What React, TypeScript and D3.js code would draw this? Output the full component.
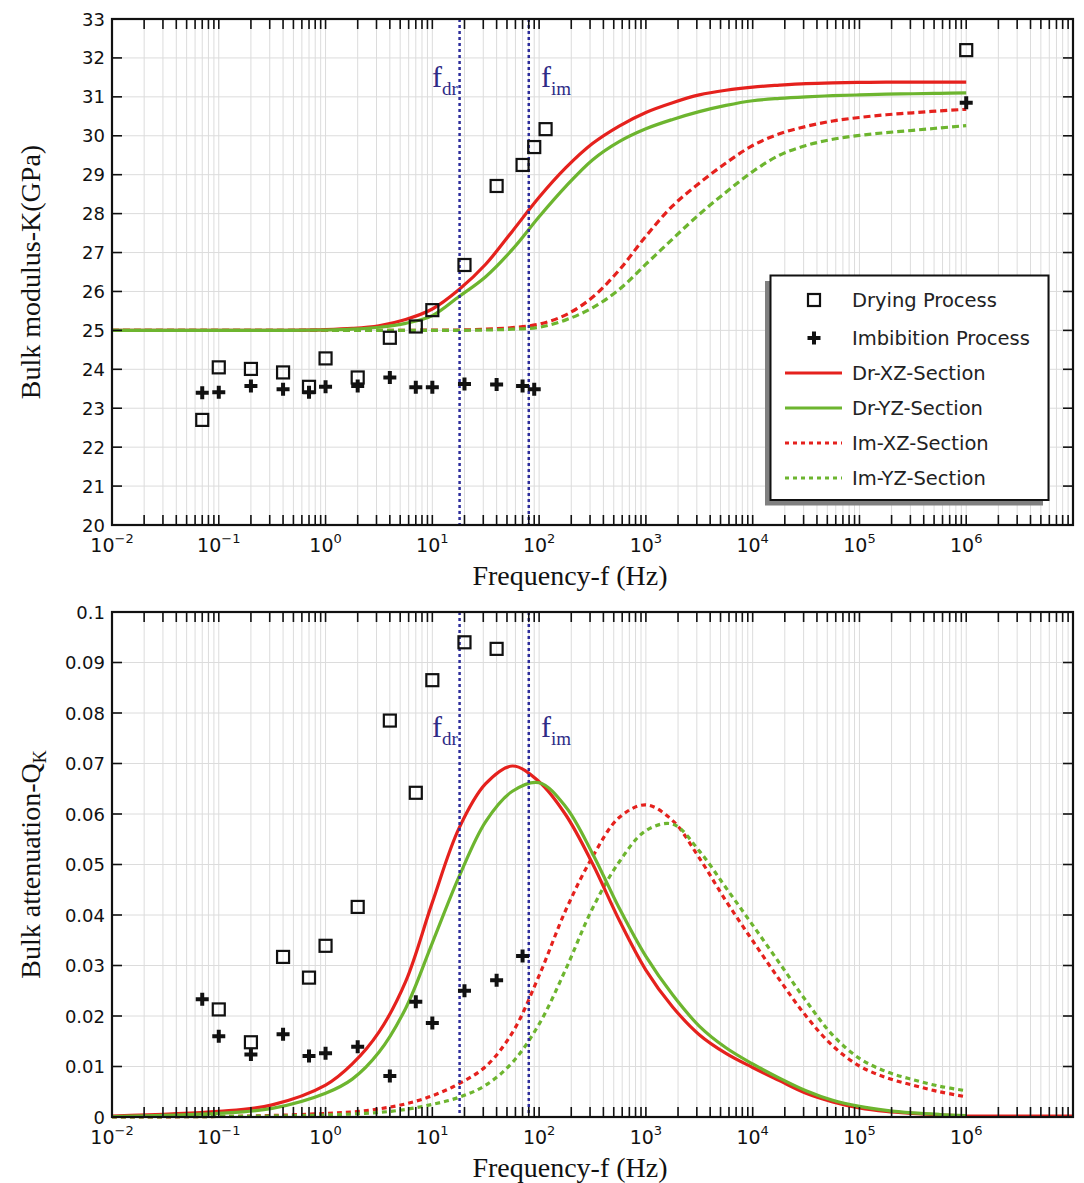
import * as d3 from 'd3';
import React, {useEffect} from 'react';

// frequency grid (Hz) on which the model curves were read
const curveFreq = [0.01, 0.1, 0.316, 1, 1.78, 3.16, 5.62, 10, 17.8, 31.6, 56.2, 100, 178, 316, 562, 1000,
  1780, 3160, 5620, 1e4, 1.78e4, 3.16e4, 5.62e4, 1e5, 1.78e5, 3.16e5, 5.62e5, 1e6];

// bulk modulus K (GPa)
const drXZ_K = [25.00, 25.00, 25.00, 25.02, 25.05, 25.12, 25.28, 25.55, 26.05, 26.70, 27.55, 28.42, 29.18, 29.80,
  30.25, 30.60, 30.85, 31.05, 31.17, 31.25, 31.30, 31.34, 31.36, 31.37, 31.38, 31.38, 31.38, 31.38];
const drYZ_K = [25.00, 25.00, 25.00, 25.01, 25.03, 25.08, 25.18, 25.38, 25.87, 26.38, 27.08, 27.92, 28.70, 29.38,
  29.85, 30.18, 30.42, 30.62, 30.78, 30.90, 30.96, 31.00, 31.03, 31.05, 31.07, 31.08, 31.09, 31.10];
const imXZ_K = [25.00, 25.00, 25.00, 25.00, 25.00, 25.00, 25.00, 25.01, 25.01, 25.03, 25.07, 25.16, 25.40, 25.85,
  26.55, 27.42, 28.20, 28.78, 29.30, 29.75, 30.05, 30.24, 30.38, 30.47, 30.54, 30.59, 30.64, 30.68];
const imYZ_K = [25.00, 25.00, 25.00, 25.00, 25.00, 25.00, 25.00, 25.00, 25.00, 25.01, 25.03, 25.08, 25.27, 25.58,
  26.05, 26.70, 27.35, 27.98, 28.55, 29.08, 29.50, 29.75, 29.91, 30.01, 30.08, 30.14, 30.20, 30.26];

// bulk attenuation Q_K
const drXZ_Q = [0.0002, 0.0011, 0.0024, 0.0063, 0.0105, 0.0168, 0.0268, 0.0425, 0.0572, 0.0660, 0.0695, 0.0664,
  0.0598, 0.0502, 0.0390, 0.0291, 0.0218, 0.0163, 0.0126, 0.0098, 0.0072, 0.0047, 0.0030, 0.0018, 0.0011, 0.0007,
  0.0004, 0.0002];
const drYZ_Q = [0.0001, 0.0007, 0.0017, 0.0047, 0.0075, 0.0128, 0.0215, 0.0345, 0.0476, 0.0585, 0.0645, 0.0662,
  0.0614, 0.0522, 0.0414, 0.0318, 0.0242, 0.0180, 0.0137, 0.0105, 0.0077, 0.0052, 0.0033, 0.0021, 0.0013, 0.0008,
  0.0005, 0.0003];
const imXZ_Q = [0.0000, 0.0001, 0.0003, 0.0007, 0.0010, 0.0016, 0.0026, 0.0042, 0.0066, 0.0100, 0.0167, 0.0280,
  0.0410, 0.0515, 0.0593, 0.0618, 0.0587, 0.0513, 0.0428, 0.0349, 0.0272, 0.0200, 0.0141, 0.0101, 0.0078, 0.0063,
  0.0050, 0.0040];
const imYZ_Q = [0.0000, 0.0001, 0.0002, 0.0004, 0.0006, 0.0009, 0.0015, 0.0025, 0.0039, 0.0063, 0.0108, 0.0184,
  0.0293, 0.0413, 0.0505, 0.0567, 0.0580, 0.0527, 0.0454, 0.0380, 0.0305, 0.0230, 0.0162, 0.0116, 0.0090, 0.0074,
  0.0061, 0.0052];
// red solid attenuation keeps running at zero to the right edge
const tailFreq = [1e6, 1e7];
const tailQ = [0.0002, 0.0002];

// measured points
const dryFreqK = [0.07, 0.1, 0.2, 0.4, 0.7, 1, 2, 4, 7, 10, 20, 40, 70, 90, 115, 1e6];
const dryK = [22.70, 24.05, 24.01, 23.92, 23.55, 24.28, 23.79, 24.81, 25.10, 25.52, 26.68, 28.71, 29.25, 29.71, 30.17, 32.20];
const imbFreqK = [0.07, 0.1, 0.2, 0.4, 0.7, 1, 2, 4, 7, 10, 20, 40, 70, 90, 1e6];
const imbK = [23.40, 23.41, 23.57, 23.49, 23.41, 23.55, 23.57, 23.79, 23.54, 23.54, 23.62, 23.61, 23.57, 23.49, 30.85];

const dryFreqQ = [0.1, 0.2, 0.4, 0.7, 1, 2, 4, 7, 10, 20, 40];
const dryQ = [0.0213, 0.0148, 0.0317, 0.0276, 0.0339, 0.0416, 0.0785, 0.0642, 0.0865, 0.0940, 0.0927];
const imbFreqQ = [0.07, 0.1, 0.2, 0.4, 0.7, 1, 2, 4, 7, 10, 20, 40, 70];
const imbQ = [0.0233, 0.0160, 0.0124, 0.0164, 0.0121, 0.0126, 0.0139, 0.0081, 0.0228, 0.0186, 0.0250, 0.0271, 0.0319];

const fDr = 18;
const fIm = 80;

const kTicks = d3.range(20, 34, 1);
const qTicks = [0, 0.01, 0.02, 0.03, 0.04, 0.05, 0.06, 0.07, 0.08, 0.09, 0.1];
const decadeExps = [-2, -1, 0, 1, 2, 3, 4, 5, 6];
const legendLabels = ['Drying Process', 'Imbibition Process', 'Dr-XZ-Section', 'Dr-YZ-Section', 'Im-XZ-Section', 'Im-YZ-Section'];
const legendRows = [300, 338, 373, 408, 443, 478];

const RED = '#e5211d';
const GREEN = '#6db52f';
const NAVY = '#2c2c9a';
const SANS = '"DejaVu Sans", sans-serif';
const SERIF = '"Liberation Serif", "Times New Roman", serif';

const xScale = d3.scaleLog().domain([1e-2, 1e7]).range([112, 1073]);

const minorVals: number[] = [];
for (let e = -2; e < 7; e++) for (let m = 1; m < 10; m++) minorVals.push(m * Math.pow(10, e));

const pairs = (xs: number[], ys: number[]) => xs.map((x, i) => [x, ys[i]] as [number, number]);

interface LineDef { data: [number, number][], color: string, dashed: boolean }

interface PanelProps {
  y0: number, y1: number,
  domain: [number, number],
  ticks: number[],
  fmt: (v: number) => string,
  lines: LineDef[],
  squares: [number, number][],
  pluses: [number, number][],
  labelY: number,
  dash: string,
  title: React.ReactNode,
  showLegend: boolean
}

const Panel: React.FC<PanelProps> = p => {
  const y = d3.scaleLinear().domain(p.domain).range([p.y1, p.y0]);
  const line = d3.line<[number, number]>()
    .x(d => xScale(d[0]))
    .y(d => y(d[1]))
    .curve(d3.curveCatmullRom.alpha(0.5));
  const x0 = xScale.range()[0], x1 = xScale.range()[1];
  const tl = 10;
  const cy = (p.y0 + p.y1) / 2;

  return (
    <g>
      <g stroke='#dcdcdc' strokeWidth={1}>
        {minorVals.map((v, i) => <line key={'gx' + i} x1={xScale(v)} x2={xScale(v)} y1={p.y0} y2={p.y1}/>)}
        {p.ticks.map((v, i) => <line key={'gy' + i} x1={x0} x2={x1} y1={y(v)} y2={y(v)}/>)}
      </g>

      {p.lines.map((l, i) => (
        <path key={'l' + i} d={line(l.data) || ''} fill='none' stroke={l.color} strokeWidth={3.2}
          strokeDasharray={l.dashed ? p.dash : undefined}/>
      ))}

      {[fDr, fIm].map((f, i) => (
        <line key={'v' + i} x1={xScale(f)} x2={xScale(f)} y1={p.y0} y2={p.y1} stroke={NAVY}
          strokeWidth={2.5} strokeDasharray='3,3'/>
      ))}

      {p.squares.map((d, i) => (
        <rect key={'s' + i} x={xScale(d[0]) - 6} y={y(d[1]) - 6} width={12} height={12}
          fill='none' stroke='#111' strokeWidth={2.2}/>
      ))}
      {p.pluses.map((d, i) => (
        <path key={'p' + i} transform={`translate(${xScale(d[0])},${y(d[1])})`}
          d='M-6.5,0H6.5M0,-6.5V6.5' stroke='#111' strokeWidth={4}/>
      ))}

      <g fill={'#2e2b86'} fontFamily={SERIF}>
        <text x={432} y={p.labelY} fontSize={30}>f<tspan fontSize={19} dy={8}>dr</tspan></text>
        <text x={541} y={p.labelY} fontSize={30}>f<tspan fontSize={19} dy={8}>im</tspan></text>
      </g>

      <g stroke='#111' strokeWidth={1.6}>
        {minorVals.concat([1e7]).map((v, i) => (
          <g key={'tx' + i}>
            <line x1={xScale(v)} x2={xScale(v)} y1={p.y1} y2={p.y1 - tl}/>
            <line x1={xScale(v)} x2={xScale(v)} y1={p.y0} y2={p.y0 + tl}/>
          </g>
        ))}
        {p.ticks.map((v, i) => (
          <g key={'ty' + i}>
            <line x1={x0} x2={x0 + tl} y1={y(v)} y2={y(v)}/>
            <line x1={x1} x2={x1 - tl} y1={y(v)} y2={y(v)}/>
          </g>
        ))}
      </g>
      <rect x={x0} y={p.y0} width={x1 - x0} height={p.y1 - p.y0} fill='none' stroke='#111' strokeWidth={2.2}/>

      <g fontFamily={SANS} fontSize={18} fill='#111'>
        {p.ticks.map((v, i) => (
          <text key={'yl' + i} x={105} y={y(v)} textAnchor='end' dominantBaseline='central'>{p.fmt(v)}</text>
        ))}
        {decadeExps.map(e => (
          <text key={'xl' + e} x={xScale(Math.pow(10, e))} y={p.y1 + 27} textAnchor='middle' fontSize={19}>
            10<tspan fontSize={13} dy={-9}>{e < 0 ? '\u2212' + Math.abs(e) : String(e)}</tspan>
          </text>
        ))}
      </g>

      <text x={570} y={p.y1 + 60} textAnchor='middle' fontFamily={SERIF} fontSize={28} fill='#111'>
        Frequency-f (Hz)
      </text>
      <text transform={`translate(40,${cy}) rotate(-90)`} textAnchor='middle' fontFamily={SERIF} fontSize={28}
        fill='#111'>
        {p.title}
      </text>

      {p.showLegend && <Legend/>}
    </g>
  );
};

const Legend: React.FC = () => {
  const bx = 770.5, by = 275.5, bw = 278, bh = 224.5;
  const styles = [
    {kind: 'square'}, {kind: 'plus'},
    {kind: 'line', color: RED, dash: undefined}, {kind: 'line', color: GREEN, dash: undefined},
    {kind: 'line', color: RED, dash: '4,4'}, {kind: 'line', color: GREEN, dash: '4,4'}
  ];
  return (
    <g>
      <rect x={bx - 5.5} y={by + 5.5} width={bw} height={bh} fill='#808080'/>
      <rect x={bx} y={by} width={bw} height={bh} fill='#fff' stroke='#111' strokeWidth={2}/>
      {legendLabels.map((lab, i) => {
        const yy = legendRows[i];
        const s: any = styles[i];
        return (
          <g key={lab}>
            {s.kind === 'square' && <rect x={808} y={yy - 6} width={12} height={12} fill='none' stroke='#111' strokeWidth={2.2}/>}
            {s.kind === 'plus' && <path transform={`translate(814,${yy})`} d='M-6.5,0H6.5M0,-6.5V6.5' stroke='#111' strokeWidth={4}/>}
            {s.kind === 'line' && <line x1={785} x2={842} y1={yy} y2={yy} stroke={s.color} strokeWidth={3.2}
              strokeDasharray={s.dash}/>}
            <text x={852} y={yy} dominantBaseline='central' fontFamily={SANS} fontSize={19.5} fill='#222'>{lab}</text>
          </g>
        );
      })}
    </g>
  );
};

export default function App() {
  useEffect(() => {
    document.body.style.margin = '0';
  }, []);

  const topLines: LineDef[] = [
    {data: pairs(curveFreq, imXZ_K), color: RED, dashed: true},
    {data: pairs(curveFreq, imYZ_K), color: GREEN, dashed: true},
    {data: pairs(curveFreq, drXZ_K), color: RED, dashed: false},
    {data: pairs(curveFreq, drYZ_K), color: GREEN, dashed: false}
  ];
  const bottomLines: LineDef[] = [
    {data: pairs(tailFreq, tailQ), color: RED, dashed: false},
    {data: pairs(curveFreq, imXZ_Q), color: RED, dashed: true},
    {data: pairs(curveFreq, imYZ_Q), color: GREEN, dashed: true},
    {data: pairs(curveFreq, drXZ_Q), color: RED, dashed: false},
    {data: pairs(curveFreq, drYZ_Q), color: GREEN, dashed: false}
  ];

  return (
    <svg width={1084} height={1183} style={{position: 'absolute', left: 0, top: 0, background: '#fff'}}>
      <rect width={1084} height={1183} fill='#fff'/>
      <Panel y0={19} y1={525} domain={[20, 33]} ticks={kTicks} fmt={v => String(v)}
        lines={topLines} squares={pairs(dryFreqK, dryK)} pluses={pairs(imbFreqK, imbK)}
        labelY={87} dash='7,4' title='Bulk modulus-K(GPa)' showLegend={true}/>
      <Panel y0={612} y1={1117} domain={[0, 0.1]} ticks={qTicks} fmt={v => (v === 0 ? '0' : String(+v.toFixed(2)))}
        lines={bottomLines} squares={pairs(dryFreqQ, dryQ)} pluses={pairs(imbFreqQ, imbQ)}
        labelY={737} dash='5,4'
        title={<>Bulk attenuation-Q<tspan fontSize={18} dy={6}>K</tspan></>} showLegend={false}/>
    </svg>
  );
}
